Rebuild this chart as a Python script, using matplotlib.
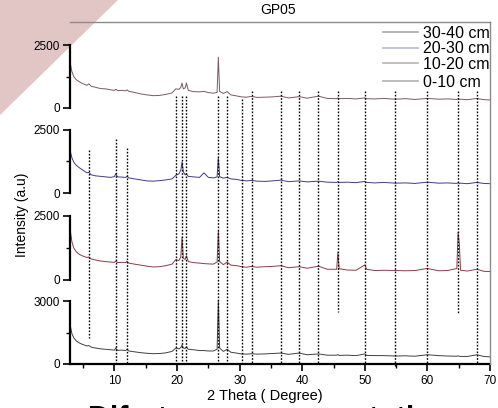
import matplotlib
matplotlib.use("Agg")
import matplotlib.pyplot as plt
from matplotlib.lines import Line2D
from matplotlib.patches import Polygon

plt.rcParams['font.family'] = ['Liberation Sans', 'DejaVu Sans']

# 2 theta positions (degree)
two_theta = [3.0, 3.2, 3.5, 3.9, 4.4, 5.0, 5.6, 5.9, 6.3, 7.0,
             7.8, 8.6, 9.4, 10.0, 10.2, 10.5, 11.2, 11.8, 12.0, 12.3,
             13.2, 14.2, 15.2, 16.2, 17.2, 18.2, 19.2, 19.8, 20.3, 20.6,
             20.8, 21.0, 21.3, 21.5, 21.8, 22.6, 23.6, 24.3, 25.0, 25.8,
             26.4, 26.6, 26.8, 27.4, 28.0, 28.6, 29.5, 30.3, 31.1, 31.9,
             32.8, 34.0, 35.2, 36.6, 37.8, 39.5, 40.8, 42.6, 44.0, 45.5,
             45.7, 45.9, 47.2, 48.6, 50.0, 50.3, 51.6, 53.0, 54.9, 56.5,
             58.0, 60.0, 61.8, 63.2, 64.7, 64.9, 65.1, 65.3, 66.4, 67.9,
             69.0, 70.0]

int_30_40 = [1700, 1450, 1250, 1120, 1040, 960, 900, 960, 860, 820,
             770, 760, 720, 700, 740, 690, 700, 680, 720, 660,
             620, 560, 520, 490, 500, 540, 600, 760, 740, 820,
             990, 760, 800, 990, 700, 650, 640, 660, 610, 590,
             620, 2020, 660, 580, 650, 520, 480, 440, 430, 460,
             420, 430, 440, 470, 400, 450, 390, 470, 380, 370,
             400, 370, 380, 360, 400, 370, 360, 380, 350, 370,
             340, 380, 350, 360, 340, 370, 340, 350, 330, 380,
             330, 320]

int_20_30 = [1600, 1400, 1220, 1100, 1000, 900, 800, 820, 720, 680,
             660, 640, 620, 650, 760, 640, 630, 620, 660, 600,
             560, 520, 480, 470, 490, 520, 560, 700, 760, 900,
             1230, 850, 720, 760, 660, 640, 620, 800, 620, 600,
             640, 1430, 650, 590, 620, 560, 540, 500, 480, 500,
             470, 460, 480, 510, 450, 480, 440, 470, 430, 420,
             450, 420, 430, 410, 460, 420, 400, 420, 390, 400,
             380, 430, 390, 400, 380, 410, 380, 390, 370, 420,
             380, 370]

int_10_20 = [1850, 1500, 1250, 1100, 1000, 930, 880, 900, 820, 780,
             740, 720, 700, 690, 740, 680, 690, 680, 730, 660,
             620, 580, 540, 510, 520, 560, 620, 800, 760, 900,
             1680, 850, 800, 950, 720, 680, 660, 640, 630, 620,
             700, 1950, 720, 600, 700, 580, 560, 520, 500, 530,
             500, 520, 530, 560, 480, 520, 460, 540, 420, 420,
             1090, 440, 390, 380, 590, 420, 370, 380, 370, 360,
             370, 450, 360, 370, 450, 1870, 1400, 380, 350, 420,
             340, 330]

int_0_10 = [1750, 1450, 1250, 1100, 1000, 920, 860, 880, 800, 760,
            720, 700, 680, 660, 760, 650, 660, 640, 700, 620,
            580, 540, 510, 490, 500, 530, 600, 760, 720, 780,
            900, 760, 740, 820, 700, 680, 640, 640, 620, 620,
            700, 3050, 760, 600, 700, 560, 520, 480, 470, 490,
            470, 480, 500, 520, 460, 520, 440, 480, 420, 420,
            440, 410, 420, 400, 480, 410, 400, 400, 380, 390,
            370, 440, 400, 380, 370, 390, 370, 360, 360, 440,
            360, 340]

depths = ["30-40 cm", "20-30 cm", "10-20 cm", "0-10 cm"]
series = [int_30_40, int_20_30, int_10_20, int_0_10]
top_ticks = [2500, 2500, 2500, 3000]

# reference peak positions (dotted lines)
peak_pos = [5.9, 10.2, 12.0, 19.8, 20.8, 21.5, 26.5, 28.0, 30.3, 31.9,
            36.6, 39.5, 42.6, 45.7, 50.0, 54.9, 60.0, 64.9, 67.9]

colors = ["#7a5a60", "#3c3c8c", "#8c3c46", "#404040"]
legend_colors = ["#a8a8a8", "#b4b8d0", "#c0b0b0", "#b0b0b0"]

W, H = 498, 408
fig = plt.figure(figsize=(W / 100, H / 100), dpi=100)

# pink corner of the slide
tri = Polygon([(0, 1), (118 / W, 1), (0, 1 - 115 / H)], closed=True,
              transform=fig.transFigure, facecolor="#e2c6c6", edgecolor="none", zorder=-5)
fig.patches.append(tri)

left, right = 70 / W, 490 / W
# panel extents in pixels (top, bottom) and y-limit top
panels = [(22, 108, 3413), (108, 193, 3373), (193, 280, 3398), (280, 364, 4000)]

for i, (ytop, ybot, ylim_top) in enumerate(panels):
    ax = fig.add_axes([left, 1 - ybot / H, right - left, (ybot - ytop) / H])
    ax.patch.set_alpha(0)
    ax.plot(two_theta, series[i], color=colors[i], lw=0.7)
    ax.set_xlim(2.9, 70)
    ax.set_ylim(0, ylim_top)
    for s in ["top", "right"]:
        ax.spines[s].set_visible(False)
    ax.spines["left"].set_bounds(0, top_ticks[i])
    ax.spines["left"].set_linewidth(1.6)
    ax.set_yticks([0, top_ticks[i]])
    ax.set_yticks([top_ticks[i] / 2], minor=True)
    ax.tick_params(axis="y", which="major", direction="out", length=5, width=1.2,
                   labelsize=8.5, pad=2)
    ax.tick_params(axis="y", which="minor", direction="out", length=3, width=1)
    if i < 3:
        ax.spines["bottom"].set_visible(False)
        ax.tick_params(axis="x", which="both", bottom=False, labelbottom=False)
    else:
        ax.spines["bottom"].set_linewidth(1.6)
        ax.set_xticks([10, 20, 30, 40, 50, 60, 70])
        ax.set_xticks([5, 15, 25, 35, 45, 55, 65], minor=True)
        ax.tick_params(axis="x", which="major", direction="out", length=5, width=1.2,
                       labelsize=8.5, pad=3)
        ax.tick_params(axis="x", which="minor", direction="out", length=3, width=1)

# overlay for frame and dotted lines
ov = fig.add_axes([left, 1 - 364 / H, right - left, (364 - 22) / H])
ov.patch.set_alpha(0)
ov.set_xlim(2.9, 70)
ov.set_ylim(364, 22)  # pixel rows
ov.set_xticks([])
ov.set_yticks([])
ov.spines["left"].set_visible(False)
ov.spines["bottom"].set_visible(False)
for s in ["top", "right"]:
    ov.spines[s].set_color("#8a8a8a")
    ov.spines[s].set_linewidth(1)

spans = {5.9: (150, 338), 10.2: (139, 364), 12.0: (148, 364), 30.3: (99, 364),
         45.7: (91, 312), 54.9: (91, 367), 64.9: (91, 313)}
for x in peak_pos:
    y0, y1 = spans.get(x, (96 if x < 31 else 91, 364))
    ov.plot([x, x], [y0, y1], color="black", lw=1, linestyle=(0, (1.2, 1.2)),
            clip_on=False)

# legend: three rows, then the last one a little further down
handles = [Line2D([], [], color=c, lw=1.2) for c in legend_colors]
leg_kw = dict(loc="upper left", frameon=False, fontsize=11.5, handlelength=2.2,
              handletextpad=0.3, labelspacing=0.02, borderpad=0, borderaxespad=0)
fig.legend(handles[:3], depths[:3], bbox_to_anchor=(383 / W, 1 - 26 / H), **leg_kw)
fig.legend(handles[3:], depths[3:], bbox_to_anchor=(383 / W, 1 - 75 / H), **leg_kw)

fig.text(278 / W, 1 - 10 / H, "GP05", ha="center", va="center", fontsize=10)
fig.text(265 / W, 1 - 396 / H, "2 Theta ( Degree)", ha="center", va="center", fontsize=10.5)
fig.text(22 / W, 1 - 215 / H, "Intensity (a.u)", ha="center", va="center",
         rotation=90, fontsize=10)

# slide caption below the chart, cut off by the picture edge as in the screenshot
fig.text(88 / W, 1 - 428 / H, "Difrat", ha="left", va="baseline", fontsize=22,
         fontweight="bold")
fig.text(350 / W, 1 - 428 / H, "ntation and", ha="left", va="baseline", fontsize=22,
         fontweight="bold")

fig.savefig("out.png", dpi=100)
